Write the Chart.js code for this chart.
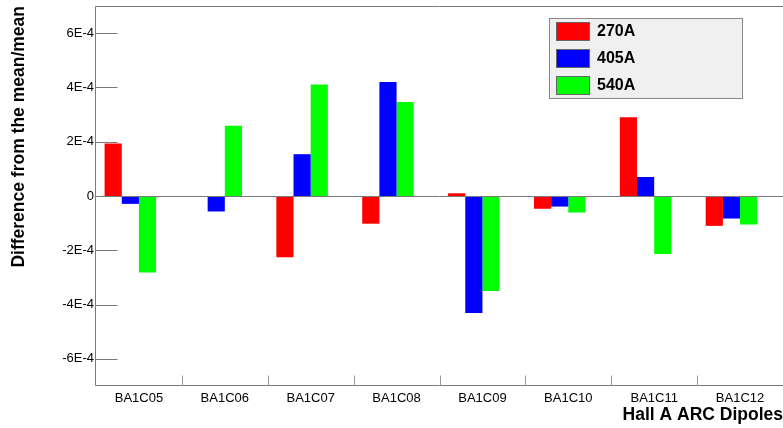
<!DOCTYPE html>
<html>
<head>
<meta charset="utf-8">
<script src="https://cdn.jsdelivr.net/npm/chart.js@4.4.1/dist/chart.umd.min.js"></script>
<style>
  html, body { margin: 0; padding: 0; background: #fff; }
  canvas { display: block; }
</style>
</head>
<body>
<canvas id="chart" width="783" height="428"></canvas>
<script>
// dipole names on the x axis
const dipoles = ["BA1C05", "BA1C06", "BA1C07", "BA1C08", "BA1C09", "BA1C10", "BA1C11", "BA1C12"];

// difference from the mean / mean, one array per current
const amp270 = [1.93e-4, 0, -2.26e-4, -1.02e-4, 0.10e-4, -0.47e-4, 2.90e-4, -1.10e-4];
const amp405 = [-0.29e-4, -0.57e-4, 1.54e-4, 4.20e-4, -4.31e-4, -0.39e-4, 0.70e-4, -0.83e-4];
const amp540 = [-2.82e-4, 2.59e-4, 4.11e-4, 3.46e-4, -3.50e-4, -0.61e-4, -2.14e-4, -1.05e-4];

const seriesLabels = ["270A", "405A", "540A"];
const seriesColors = ["#ff0000", "#0000ff", "#00ff00"];

// y axis range and labelled ticks
const yMin = -7e-4, yMax = 7e-4;
const yTicks = [-6e-4, -4e-4, -2e-4, 0, 2e-4, 4e-4, 6e-4];

const FONT = "'Liberation Sans', Arial, Helvetica, sans-serif";
const FRAME = "#7a7a7a";

// ROOT-style frame, inward ticks, zero line and boxed legend
const rootFrame = {
  id: "rootFrame",
  afterDatasetsDraw(chart) {
    const { ctx, chartArea: a, scales: { x, y } } = chart;
    ctx.save();
    ctx.lineWidth = 1;
    ctx.strokeStyle = FRAME;

    // zero line
    const y0 = Math.round(y.getPixelForValue(0)) + 0.5;
    ctx.beginPath();
    ctx.moveTo(a.left, y0);
    ctx.lineTo(a.right, y0);
    ctx.stroke();

    // frame: top, left, bottom
    const L = Math.round(a.left) - 0.5, T = Math.round(a.top) + 0.5, B = Math.round(a.bottom) - 0.5;
    ctx.beginPath();
    ctx.moveTo(a.right + 2, T);
    ctx.lineTo(L, T);
    ctx.lineTo(L, B);
    ctx.lineTo(a.right + 2, B);
    ctx.stroke();

    // y ticks pointing inside
    yTicks.forEach(v => {
      const py = Math.round(y.getPixelForValue(v)) + 0.5;
      ctx.beginPath();
      ctx.moveTo(L, py);
      ctx.lineTo(L + 22, py);
      ctx.stroke();
    });

    // x ticks at category boundaries
    ctx.strokeStyle = "#9a9a9a";
    for (let i = 1; i < dipoles.length; i++) {
      const px = Math.round((x.getPixelForTick(i - 1) + x.getPixelForTick(i)) / 2) + 0.5;
      ctx.beginPath();
      ctx.moveTo(px, B);
      ctx.lineTo(px, B - 10);
      ctx.stroke();
    }

    // legend box
    const bx = 549.5, by = 18.5, bw = 193, bh = 80;
    ctx.fillStyle = "#f0f0f0";
    ctx.fillRect(bx, by, bw, bh);
    ctx.strokeStyle = "#888";
    ctx.strokeRect(bx, by, bw, bh);
    ctx.font = "bold 16px " + FONT;
    ctx.textBaseline = "middle";
    ctx.textAlign = "left";
    seriesLabels.forEach((lab, i) => {
      const sy = 22 + i * 27;
      ctx.fillStyle = seriesColors[i];
      ctx.fillRect(556, sy, 34, 19);
      ctx.strokeStyle = "#666";
      ctx.strokeRect(556.5, sy + 0.5, 33, 18);
      ctx.fillStyle = "#000";
      ctx.fillText(lab, 597, sy + 10);
    });
    ctx.restore();
  }
};

const datasets = seriesLabels.map((lab, i) => ({
  label: lab,
  data: [amp270, amp405, amp540][i],
  backgroundColor: seriesColors[i],
  borderWidth: 0
}));
// empty slot so the three bars sit left of the bin centre, as in ROOT
datasets.push({ label: "", data: dipoles.map(() => null), backgroundColor: "rgba(0,0,0,0)" });

new Chart(document.getElementById("chart"), {
  type: "bar",
  data: { labels: dipoles, datasets },
  options: {
    responsive: false,
    animation: false,
    layout: { padding: { top: 6, left: 0, right: 0, bottom: 0 } },
    datasets: { bar: { categoryPercentage: 0.8, barPercentage: 1.0 } },
    plugins: { legend: { display: false }, tooltip: { enabled: false } },
    scales: {
      x: {
        grid: { display: false, drawTicks: false },
        border: { display: false },
        ticks: { color: "#000", font: { family: FONT, size: 13 }, padding: 5, maxRotation: 0 },
        title: {
          display: true, text: "Hall A ARC Dipoles", align: "end", color: "#000",
          font: { family: FONT, size: 17.5, weight: "bold" }, padding: { top: 0, bottom: 2 }
        },
        afterFit(scale) {
          scale.height = 42;
          scale.paddingLeft = 0;
          scale.paddingRight = 0;
        }
      },
      y: {
        min: yMin, max: yMax,
        grid: { display: false, drawTicks: false },
        border: { display: false },
        afterBuildTicks(scale) { scale.ticks = yTicks.map(v => ({ value: v })); },
        ticks: {
          color: "#000", font: { family: FONT, size: 13 }, padding: 2,
          callback: v => (v === 0 ? "0" : Math.round(v * 1e4) + "E-4")
        },
        title: {
          display: true, text: "Difference from the mean/mean", align: "end", color: "#000",
          font: { family: FONT, size: 17.5, weight: "bold" }, padding: { top: 9, bottom: 0 }
        },
        afterFit(scale) {
          scale.width = 96;
          scale.paddingTop = 0;
          scale.paddingBottom = 0;
        }
      }
    }
  },
  plugins: [rootFrame]
});
</script>
</body>
</html>
